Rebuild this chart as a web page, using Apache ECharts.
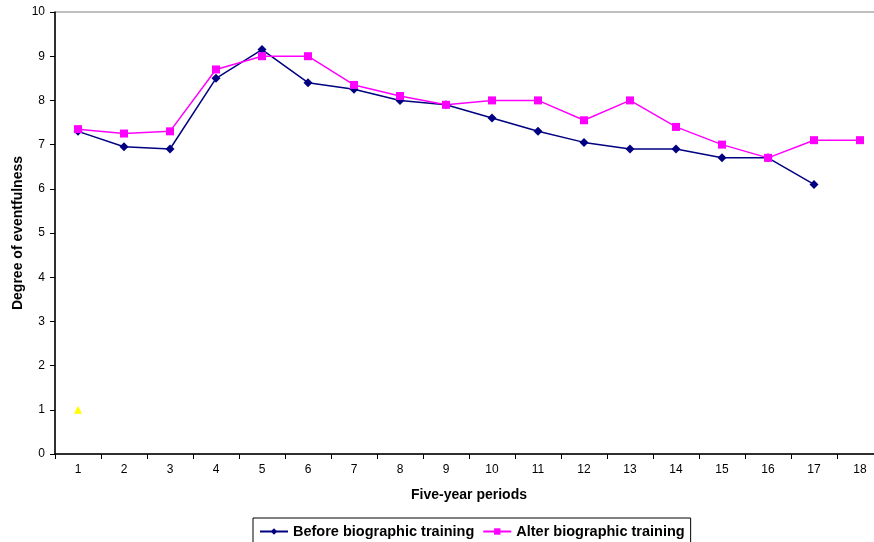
<!DOCTYPE html>
<html><head><meta charset="utf-8">
<script src="https://cdn.jsdelivr.net/npm/echarts@6/dist/echarts.min.js"></script>
<style>html,body{margin:0;padding:0;background:#fff}#c{width:874px;height:542px}</style>
</head><body><div id="c"></div>
<script>
const categories = ['1','2','3','4','5','6','7','8','9','10','11','12','13','14','15','16','17','18'];
const beforeTraining = [7.3, 6.95, 6.9, 8.5, 9.15, 8.4, 8.25, 8.0, 7.9, 7.6, 7.3, 7.05, 6.9, 6.9, 6.7, 6.7, 6.1, null];
const afterTraining = [7.35, 7.25, 7.3, 8.7, 9.0, 9.0, 8.35, 8.1, 7.9, 8.0, 8.0, 7.55, 8.0, 7.4, 7.0, 6.7, 7.1, 7.1];
const thirdSeries = [1, null, null, null, null, null, null, null, null, null, null, null, null, null, null, null, null, null];

const chart = echarts.init(document.getElementById('c'));
const font = 'Liberation Sans, Arial, sans-serif';
chart.setOption({
  animation: false,
  textStyle: {fontFamily: font},
  grid: {left: 55, top: 12, width: 828, height: 442, show: true, borderColor: '#808080', borderWidth: 1,
         outerBoundsMode: 'none', containLabel: false},
  legend: {
    data: ['Before biographic training', 'Alter biographic training'],
    top: 518, left: 253,
    borderColor: '#000', borderWidth: 1, padding: [6, 6, 8, 6],
    itemWidth: 28, itemHeight: 8, itemGap: 8,
    textStyle: {fontWeight: 'bold', fontSize: 14.5, color: '#000', fontFamily: font}
  },
  xAxis: {
    type: 'category', data: categories, boundaryGap: true,
    name: 'Five-year periods', nameLocation: 'middle', nameGap: 34,
    nameTextStyle: {fontWeight: 'bold', fontSize: 14, color: '#000', fontFamily: font},
    axisLine: {lineStyle: {color: '#000', width: 1.5}},
    axisTick: {show: true, alignWithLabel: false, length: 5, lineStyle: {color: '#000'}},
    axisLabel: {color: '#000', fontSize: 12, margin: 10},
    splitLine: {show: false}
  },
  yAxis: {
    type: 'value', min: 0, max: 10, interval: 1,
    name: 'Degree of eventfulness', nameLocation: 'middle', nameGap: 30, nameMoveOverlap: false,
    nameTextStyle: {fontWeight: 'bold', fontSize: 14, color: '#000', fontFamily: font},
    axisLine: {show: true, lineStyle: {color: '#000', width: 1.5}},
    axisTick: {show: true, length: 5, lineStyle: {color: '#000'}},
    axisLabel: {color: '#000', fontSize: 12, margin: 10},
    splitLine: {show: false}
  },
  series: [
    {name: 'Before biographic training', type: 'line', data: beforeTraining,
     symbol: 'diamond', symbolSize: 9, showAllSymbol: true,
     itemStyle: {color: '#000080'}, lineStyle: {color: '#000080', width: 1.5}},
    {name: 'Alter biographic training', type: 'line', data: afterTraining,
     symbol: 'rect', symbolSize: 8, showAllSymbol: true,
     itemStyle: {color: '#FF00FF'}, lineStyle: {color: '#FF00FF', width: 1.5}},
    {name: 'Series3', type: 'line', data: thirdSeries,
     symbol: 'triangle', symbolSize: 8, showAllSymbol: true,
     itemStyle: {color: '#FFFF00'}, lineStyle: {width: 0}}
  ]
});
</script></body></html>
